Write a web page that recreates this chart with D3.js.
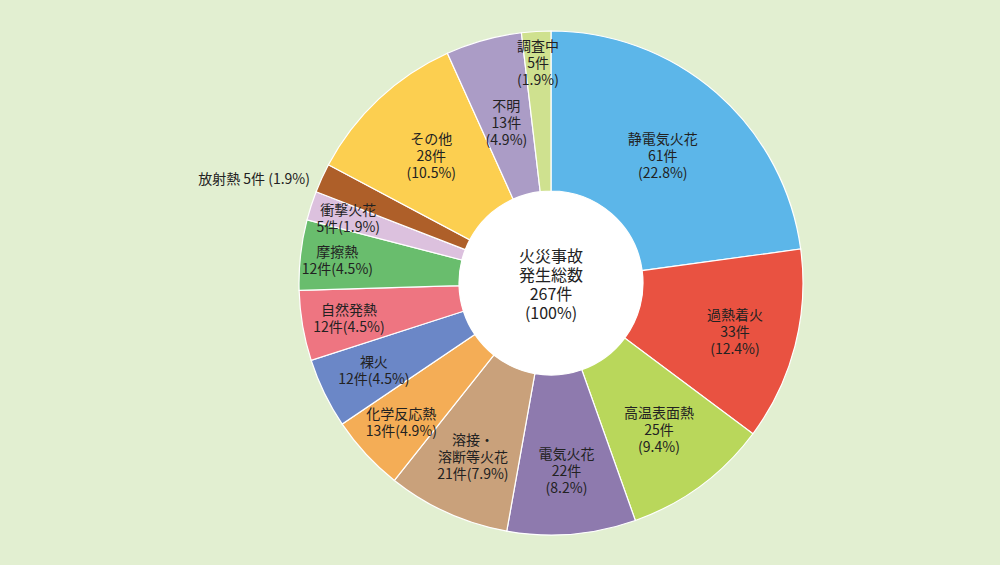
<!DOCTYPE html>
<html><head><meta charset="utf-8">
<script src="https://cdn.jsdelivr.net/npm/d3@7"></script>
<style>body{margin:0;background:#e2efd1;}svg{display:block;font-family:"Noto Sans CJK JP","Noto Sans",sans-serif;}</style>
</head><body><svg id="c" width="1000" height="565"></svg>
<script>
const categories=["静電気火花","過熱着火","高温表面熱","電気火花","溶接・\n溶断等火花","化学反応熱","裸火","自然発熱","摩擦熱","衝撃火花","放射熱","その他","不明","調査中"];
const values=[61,33,25,22,21,13,12,12,12,5,5,28,13,5];
const percents=["22.8%","12.4%","9.4%","8.2%","7.9%","4.9%","4.5%","4.5%","4.5%","1.9%","1.9%","10.5%","4.9%","1.9%"];
const colors=["#5cb6e9","#e95241","#b9d75b","#8e7aae","#c9a17b","#f4ad56","#6b87c7","#ee7581","#69bd6d","#dcc1de","#ae5f29","#fccf50","#ab9cc6","#cfe18f"];
const labelRadius=[170,190,182,188,190,204,197,205,215,213,0,175,167,221];
const compact=[false,false,false,false,true,true,true,true,true,true,false,false,false,false];
const total=d3.sum(values);
const svg=d3.select("#c");
const cx=551,cy=283,R=252,r0=92;
const g=svg.append("g").attr("transform",`translate(${cx},${cy})`);
const pie=d3.pie().sort(null).value(d=>d)(values);
const arc=d3.arc().innerRadius(r0).outerRadius(R);
g.selectAll("path").data(pie).join("path").attr("d",arc).attr("fill",(d,i)=>colors[i]).attr("stroke","#fff").attr("stroke-width",1.2);
g.append("circle").attr("r",r0).attr("fill","#fff");
const lh=17;
function lines(i){
  const nm=categories[i].split("\n");
  if(compact[i]) return nm.concat([values[i]+"件("+percents[i]+")"]);
  return nm.concat([values[i]+"件","("+percents[i]+")"]);
}
pie.forEach((d,i)=>{
  if(i===10){
    g.append("text").attr("x",310-cx).attr("y",178-cy).attr("text-anchor","end").attr("dominant-baseline","central").attr("font-size",14).attr("fill","#222").text(categories[i]+" "+values[i]+"件 ("+percents[i]+")");
    return;
  }
  const a=(d.startAngle+d.endAngle)/2, rr=labelRadius[i];
  const x=Math.sin(a)*rr, y=-Math.cos(a)*rr;
  const L=lines(i);
  const t=g.append("text").attr("text-anchor","middle").attr("font-size",14).attr("fill","#222");
  L.forEach((s,k)=>t.append("tspan").attr("x",x).attr("y",y+(k-(L.length-1)/2)*lh).attr("dominant-baseline","central").text(s));
});
const center=["火災事故","発生総数",total+"件","(100%)"];
const ct=g.append("text").attr("text-anchor","middle").attr("font-size",16).attr("fill","#222");
center.forEach((s,k)=>ct.append("tspan").attr("x",0).attr("y",(k-1.5)*19).attr("dominant-baseline","central").text(s));
</script></body></html>
